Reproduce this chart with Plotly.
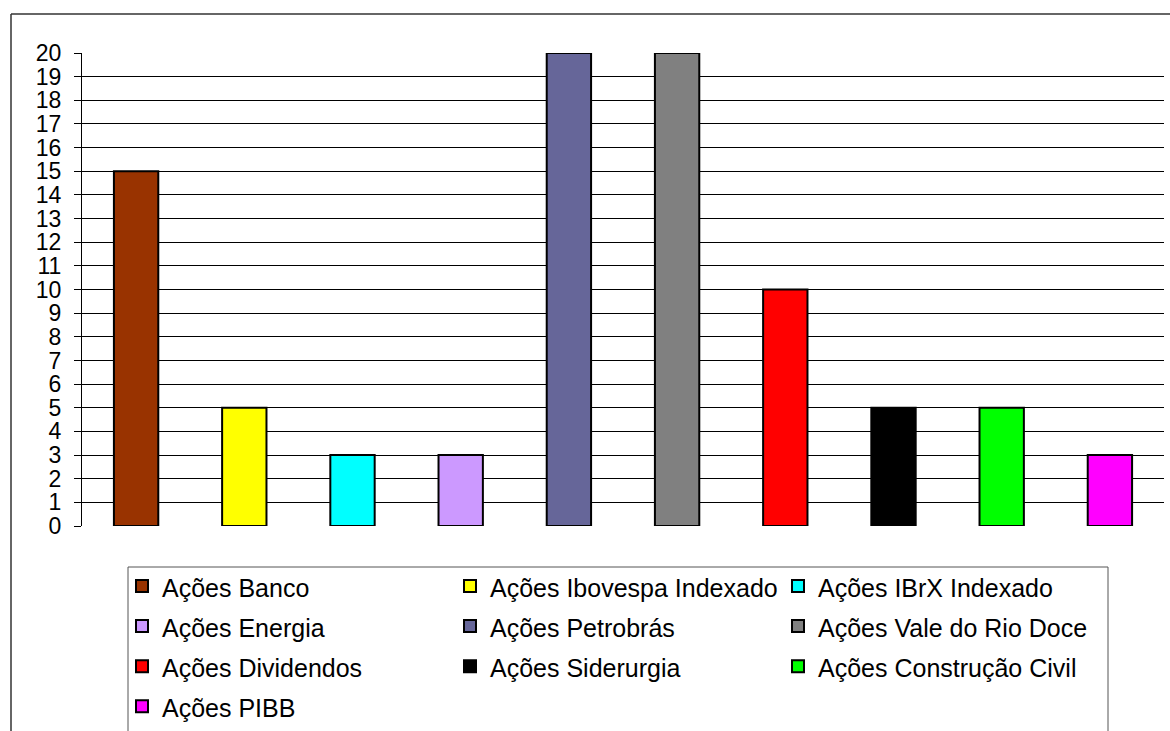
import plotly.graph_objects as go

categories = ["Ações Banco", "Ações Ibovespa Indexado", "Ações IBrX Indexado",
              "Ações Energia", "Ações Petrobrás", "Ações Vale do Rio Doce",
              "Ações Dividendos", "Ações Siderurgia", "Ações Construção Civil",
              "Ações PIBB"]
values = [15, 5, 3, 3, 20, 20, 10, 5, 5, 3]
colors = ["#993300", "#FFFF00", "#00FFFF", "#CC99FF", "#666699",
          "#808080", "#FF0000", "#000000", "#00FF00", "#FF00FF"]
y_ticks = list(range(0, 21))

W, H = 1170, 731
ML, MR, MT, MB = 82, 6, 53, 205
PW, PH = W - ML - MR, H - MT - MB


def px_x(p):
    return (p - ML) / PW


def px_y(p):
    return (H - MB - p) / PH


fig = go.Figure()
for cat, val, col in zip(categories, values, colors):
    fig.add_trace(go.Bar(
        x=[cat], y=[val], name='<span style="font-size:25px">' + cat + '</span>',
        marker=dict(color=col, line=dict(color="#000000", width=2)),
        hoverinfo="x+y",
    ))

fig.update_layout(
    width=W, height=H,
    margin=dict(l=ML, r=MR, t=MT, b=MB, autoexpand=False),
    paper_bgcolor="white", plot_bgcolor="white",
    barmode="overlay", bargap=0.59,
    font=dict(family="Liberation Sans, Arial, sans-serif", color="#000000"),
    showlegend=True,
    legend=dict(
        orientation="h", x=px_x(122), xanchor="left", y=px_y(561), yanchor="top",
        font=dict(size=28.5, family="Liberation Sans, Arial, sans-serif", color="#000000"),
        entrywidth=283, entrywidthmode="pixels",
        bgcolor="rgba(0,0,0,0)", borderwidth=0,
        traceorder="normal",
    ),
    xaxis=dict(
        categoryorder="array", categoryarray=categories,
        range=[-0.5, len(categories) - 0.5],
        showticklabels=False, showgrid=False, zeroline=False, showline=False, ticks="",
    ),
    yaxis=dict(
        range=[0, 20], tickvals=y_ticks, ticktext=[str(t) for t in y_ticks],
        showgrid=True, gridcolor="#000000", gridwidth=1,
        zeroline=False, showline=True, linecolor="#000000", linewidth=1,
        ticks="outside", ticklen=7, tickcolor="#000000", tickwidth=1,
        tickfont=dict(size=23, family="Liberation Sans, Arial, sans-serif", color="#000000"),
        ticklabelstandoff=8,
    ),
    shapes=[
        # outer chart frame (left and top edges visible)
        dict(type="line", xref="paper", yref="paper",
             x0=px_x(11), x1=px_x(11), y0=px_y(14), y1=px_y(740),
             line=dict(color="#333333", width=1.5), layer="above"),
        dict(type="line", xref="paper", yref="paper",
             x0=px_x(11), x1=px_x(1180), y0=px_y(14), y1=px_y(14),
             line=dict(color="#333333", width=1.5), layer="above"),
        # legend box
        dict(type="rect", xref="paper", yref="paper",
             x0=px_x(128), x1=px_x(1108), y0=px_y(567), y1=px_y(740),
             line=dict(color="#555555", width=1), fillcolor="rgba(0,0,0,0)", layer="above"),
    ],
)

fig.write_html("out.html")
